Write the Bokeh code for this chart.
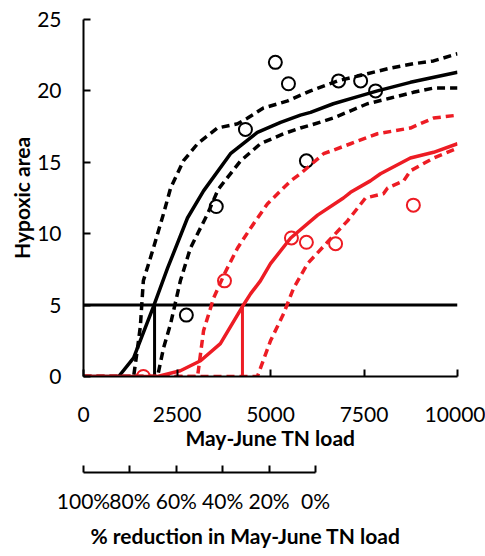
from bokeh.plotting import figure
from bokeh.models import Range1d, LinearAxis, FixedTicker, PrintfTickFormatter, Title
from bokeh.embed import file_html
from bokeh.resources import INLINE

# ---- data ----
x_ticks = [0, 2500, 5000, 7500, 10000]
y_ticks = [0, 5, 10, 15, 20, 25]
pct_ticks = [0, 20, 40, 60, 80, 100]

black_obs_load = [2750, 3550, 4330, 5130, 5480, 5960, 6820, 7410, 7810]
black_obs_area = [4.3, 11.9, 17.3, 22.0, 20.5, 15.1, 20.7, 20.7, 20.0]
red_obs_load = [1600, 3770, 5560, 5960, 6740, 8820]
red_obs_area = [0.0, 6.7, 9.7, 9.4, 9.3, 12.0]

black_fit_load = [0, 940, 1340, 1870, 2250, 2780, 3210, 3930, 4650, 5270, 5800, 6070, 6680, 7330, 7860, 8740, 10000]
black_fit_area = [0, 0, 1.3, 4.9, 7.6, 11.1, 13.0, 15.6, 17.1, 17.8, 18.3, 18.5, 19.1, 19.6, 20.0, 20.6, 21.3]
black_up_load = [0, 1340, 1420, 1520, 1600, 1870, 2140, 2330, 2670, 3050, 3580, 4120, 4390, 4810, 5460, 6070, 6790, 7590, 8210, 8820, 9360, 10000]
black_up_area = [0, 0, 1.5, 3.5, 6.7, 9.0, 11.4, 13.2, 15.1, 16.3, 17.4, 17.7, 18.1, 18.8, 19.3, 20.0, 20.7, 21.2, 21.6, 21.9, 22.1, 22.6]
black_lo_load = [0, 1980, 2140, 2330, 2590, 2860, 3320, 3600, 4200, 4730, 5350, 5800, 6070, 6680, 7590, 8210, 8820, 9360, 10000]
black_lo_area = [0, 0, 2.0, 3.7, 6.7, 9.0, 11.4, 13.1, 15.1, 16.3, 17.0, 17.4, 17.6, 18.1, 19.1, 19.5, 19.9, 20.2, 20.2]

red_fit_load = [0, 1980, 2590, 3130, 3660, 4250, 4470, 4730, 5000, 5540, 6260, 6950, 7140, 7670, 7940, 8740, 9360, 10000]
red_fit_area = [0, 0, 0.4, 1.1, 2.3, 4.9, 5.8, 6.7, 7.9, 9.7, 11.3, 12.5, 12.9, 13.7, 14.2, 15.3, 15.7, 16.3]
red_up_load = [0, 3050, 3210, 3480, 3770, 4120, 4470, 4920, 5540, 5800, 6420, 7140, 7860, 8740, 9360, 10000]
red_up_area = [0, 0, 3.2, 5.5, 7.2, 9.0, 10.4, 12.1, 13.7, 14.2, 15.6, 16.3, 17.0, 17.4, 18.1, 18.3]
red_lo_load = [0, 4650, 5000, 5350, 5620, 5990, 6520, 7060, 7540, 8020, 8130, 8560, 8740, 9360, 10000]
red_lo_area = [0, 0, 2.5, 4.4, 6.2, 7.9, 9.4, 10.9, 12.5, 12.8, 13.2, 13.7, 14.4, 15.3, 16.0]

threshold = 5
black_cross_load = 1900
red_cross_load = 4250

RED = "#ED1C24"
FONT = "Lato"

p = figure(width=485, height=556, output_backend="svg", toolbar_location=None,
           x_range=Range1d(0, 10000), y_range=Range1d(0, 25),
           min_border_left=83, min_border_right=28, min_border_top=19, min_border_bottom=180)
p.outline_line_color = None
p.grid.visible = False
p.background_fill_color = "white"

# threshold and crossing lines
p.line([0, 10000], [threshold, threshold], line_color="black", line_width=3)
p.line([black_cross_load, black_cross_load], [0, threshold], line_color="black", line_width=3)

# black curves
p.line(black_up_load, black_up_area, line_color="black", line_width=3.5, line_dash="8 5")
p.line(black_lo_load, black_lo_area, line_color="black", line_width=3.5, line_dash="8 5")
p.line(black_fit_load, black_fit_area, line_color="black", line_width=3.5)
p.scatter(black_obs_load, black_obs_area, size=13, fill_color=None, line_color="black", line_width=2)

# red curves
p.line([red_cross_load, red_cross_load], [0, threshold], line_color=RED, line_width=3)
p.line(red_up_load, red_up_area, line_color=RED, line_width=3.5, line_dash="8 5")
p.line(red_lo_load, red_lo_area, line_color=RED, line_width=3.5, line_dash="8 5")
p.line(red_fit_load, red_fit_area, line_color=RED, line_width=3.5)
p.scatter(red_obs_load, red_obs_area, size=13, fill_color=None, line_color=RED, line_width=2)

def style_axis(ax):
    ax.axis_line_color = "black"
    ax.axis_line_width = 2
    ax.major_tick_line_color = "black"
    ax.major_tick_line_width = 2
    ax.major_tick_in = 7
    ax.major_tick_out = 0
    ax.minor_tick_line_color = None
    ax.major_label_text_font = FONT
    ax.major_label_text_font_size = "21px"
    ax.major_label_text_color = "black"
    ax.axis_label_text_font = FONT
    ax.axis_label_text_font_size = "21px"
    ax.axis_label_text_font_style = "bold"
    ax.axis_label_text_color = "black"

xa = p.xaxis[0]
style_axis(xa)
xa.ticker = FixedTicker(ticks=x_ticks)
xa.major_label_standoff = 30
xa.axis_label = "May-June TN load"
xa.axis_label_standoff = 0

ya = p.yaxis[0]
style_axis(ya)
ya.ticker = FixedTicker(ticks=y_ticks)
ya.major_label_standoff = 22
ya.axis_label = "Hypoxic area"
ya.axis_label_standoff = 0

# spacer axis
p.extra_x_ranges = {"pct": Range1d(100, -61.2)}
sp = LinearAxis(x_range_name="pct", ticker=FixedTicker(ticks=[]), axis_line_color=None,
                major_tick_line_color=None, minor_tick_line_color=None,
                axis_label=" ", axis_label_text_font_size="16px", axis_label_standoff=0)
p.add_layout(sp, "below")

pa = LinearAxis(x_range_name="pct", bounds=(0, 100))
style_axis(pa)
pa.ticker = FixedTicker(ticks=pct_ticks)
pa.formatter = PrintfTickFormatter(format="%d%%")
pa.major_label_standoff = 15
p.add_layout(pa, "below")

title2 = Title(text="% reduction in May-June TN load", align="left", offset=7, standoff=11,
               text_font=FONT, text_font_size="21px", text_font_style="bold", text_color="black")
p.add_layout(title2, "below")

open("out.html", "w").write(file_html(p, INLINE))
